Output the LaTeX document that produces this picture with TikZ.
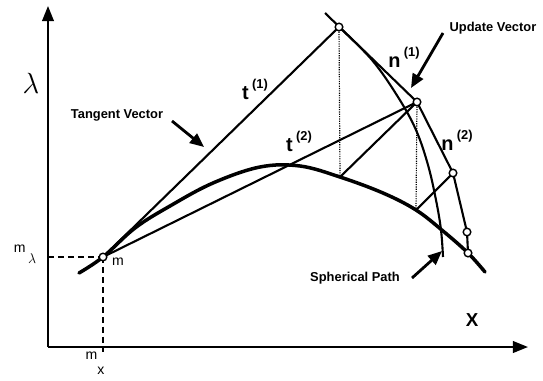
\documentclass[tikz,border=0pt]{standalone}
\usepackage{fontspec}
\setmainfont{Liberation Sans}
\usetikzlibrary{arrows.meta, positioning}

\newcommand{\veclab}[2]{\textbf{#1}\,\raisebox{0.55em}{\fontsize{11}{12}\selectfont\bfseries(#2)}}

\begin{document}
\begin{tikzpicture}[x=0.03cm, y=-0.03cm,
    curve/.style={line width=3pt, line cap=round},
    vec/.style={line width=1.8pt},
    proj/.style={densely dotted, line width=1pt},
    guide/.style={line width=1.3pt, dash pattern=on 5pt off 3.5pt},
    axis/.style={line width=1.8pt, -{Triangle[length=13pt, width=10pt]}},
    pointer/.style={line width=2.4pt, -{Triangle[length=12pt, width=10pt]}},
    dot/.style={circle, draw, fill=white, line width=1.2pt, inner sep=0pt, minimum size=6.5pt},
    note/.style={font=\bfseries\fontsize{11}{13}\selectfont},
    vlab/.style={font=\fontsize{17}{19}\selectfont, inner sep=1pt}]

  \useasboundingbox (0,0) rectangle (543,380);

  % axes
  \coordinate (o) at (48,347);
  \coordinate (ytip) at (48,6);
  \coordinate (xtip) at (528,347);
  \draw [axis] (o) -- (ytip);
  \draw [axis] (o) -- (xtip);

  % points
  \coordinate (m) at (103,257);
  \coordinate (p1) at (339,27);
  \coordinate (p2) at (417,102);
  \coordinate (p3) at (453,173);
  \coordinate (p4) at (467,232);
  \coordinate (p5) at (468,253);
  \coordinate (q1) at (340,177);
  \coordinate (q2) at (416,210);
  \coordinate (n1top) at (325,13);
  \coordinate (ml) at (48,257);
  \coordinate (mx) at (103,353);

  % spherical path
  \draw [curve] plot [smooth, tension=0.6] coordinates {(79,273) (m) (135,228) (170,206)
    (213,183) (260,167) (300,166) (q1) (383,193) (q2) (443,231) (p5) (485,272)};

  % arc through the first corrector
  \draw [vec] plot [smooth, tension=0.6] coordinates {(p1) (372,60) (398,97) (416,130)
    (428,165) (436,200) (441,230) (443,257)};

  % vectors
  \draw [vec] (m) -- (p1);
  \draw [vec] (n1top) -- (p2);
  \draw [vec] (m) -- (p2);
  \draw [vec] (p2) -- (q1);
  \draw [vec] (q2) -- (p3);
  \draw [vec] (p2) -- (p3) -- (p4) -- (p5);
  \draw [proj] (p1) -- (q1);
  \draw [proj] (p2) -- (q2);
  \draw [guide] (ml) -- (m);
  \draw [guide] (m) -- (mx);

  % marked points
  \foreach \p in {m, p1, p2, p3, p4, p5}
    \node [dot] (\p dot) at (\p) {};

  % labels
  \node [vlab] (t1) at (255,89) {\veclab{t}{1}};
  \node [vlab] (t2) at (299,141) {\veclab{t}{2}};
  \node [vlab] (n1) at (404,57) {\veclab{n}{1}};
  \node [vlab] (n2) at (457,140) {\veclab{n}{2}};
  \node [font=\fontsize{16}{18}\selectfont\bfseries] (xlab) at (472,320) {X};
  \node [font=\fontsize{30}{32}\selectfont] (lam) at (31,83) {$\lambda$};
  \node [note, font=\fontsize{12}{14}\selectfont] (mlab) at (118,262) {m};
  \node [note, font=\fontsize{12}{14}\selectfont] (mlam) at (25,254) {m\hspace{2pt}\raisebox{-0.75em}{$\lambda$}};
  \node [note, font=\fontsize{12}{14}\selectfont] (mxlab) at (95,363) {m\raisebox{-1.05em}{x}};

  % notes with pointers
  \node [note] (tangent) at (117,115) {Tangent Vector};
  \node [note] (update) at (493,28) {Update Vector};
  \node [note] (sphere) at (355,278) {Spherical Path};
  \coordinate (tangent tail) at (172,121);
  \coordinate (tangent tip) at (204,147);
  \coordinate (update tail) at (443,33);
  \coordinate (update tip) at (411,88);
  \coordinate (sphere tail) at (412,278);
  \coordinate (sphere tip) at (442,251);
  \draw [pointer] (tangent tail) -- (tangent tip);
  \draw [pointer] (update tail) -- (update tip);
  \draw [pointer] (sphere tail) -- (sphere tip);
\end{tikzpicture}
\end{document}
